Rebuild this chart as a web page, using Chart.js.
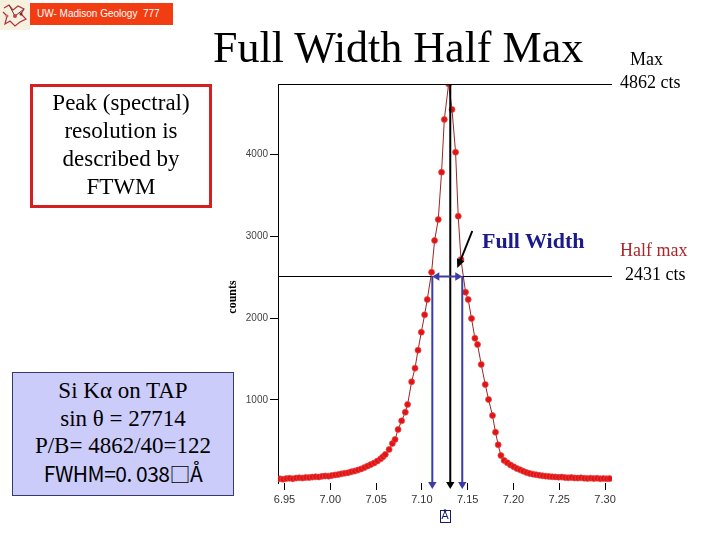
<!DOCTYPE html>
<html>
<head>
<meta charset="utf-8">
<script src="https://cdn.jsdelivr.net/npm/chart.js@4.4.1/dist/chart.umd.min.js"></script>
<style>
  body { margin: 0; background: #fff; }
  #wrap { position: relative; width: 720px; height: 540px; overflow: hidden; }
  #wrap canvas { position: absolute; left: 0; top: 0; }
  .txt { position: absolute; font-family: "Liberation Serif", "DejaVu Serif", serif; color: #000; white-space: nowrap; }
  #banner { position: absolute; left: 30px; top: 3px; width: 143px; height: 22px; background: #f23c12;
    color: #fff; font: 10px "Liberation Sans", Arial, sans-serif; line-height: 22px; padding-left: 7px; box-sizing: border-box; }
  #logo { position: absolute; left: 0; top: 0; }
  #peakBox { position: absolute; left: 30px; top: 84px; width: 182px; height: 124px; border: 3px solid #d42020;
    box-sizing: border-box; text-align: center; font-size: 23px; line-height: 28px; padding-top: 2px; }
  #infoBox { position: absolute; left: 12px; top: 372px; width: 222px; height: 124px; border: 1px solid #3a3a6a;
    background: #ccccfa; box-sizing: border-box; text-align: center; font-size: 23px; line-height: 27.5px; padding-top: 4px; }
  #infoBox .gothic { font-family: "Noto Sans CJK JP", "DejaVu Sans", sans-serif; font-size: 21px; letter-spacing: -0.5px; }
</style>
</head>
<body>
<div id="wrap">
  <canvas id="fwhmChart"></canvas>
  <svg id="logo" width="30" height="30">
    <rect x="0" y="0" width="30" height="30" fill="#f6f1de"/>
    <polyline points="4,8 9,5 13,10 18,6 24,9 21,14 26,19 20,22 15,26 10,21 5,24 7,16 3,12" fill="none" stroke="#b03040" stroke-width="1.2"/>
    <polyline points="9,5 15,16 24,9" fill="none" stroke="#703030" stroke-width="1"/>
    <circle cx="15" cy="16" r="2" fill="#c04050"/>
    <circle cx="21" cy="14" r="1.5" fill="#802020"/>
    <circle cx="7" cy="16" r="1.5" fill="#d06070"/>
  </svg>
  <div id="banner">UW- Madison Geology&nbsp; 777</div>
  <div class="txt" style="left:213px; top:23px; font-size:44px; line-height:50px;">Full Width Half Max</div>
  <div id="peakBox" class="txt">Peak (spectral)<br>resolution is<br>described by<br>FTWM</div>
  <div id="infoBox" class="txt">Si K&alpha; on TAP<br>sin &theta; = 27714<br>P/B= 4862/40=122<br><span class="gothic">FWHM=0. 038□Å</span></div>
  <div class="txt" style="left:630px; top:48px; font-size:18px; line-height:22px;">Max</div>
  <div class="txt" style="left:620px; top:71px; font-size:18px; line-height:22px;">4862 cts</div>
  <div class="txt" style="left:482px; top:228px; font-size:22px; line-height:26px; font-weight:bold; color:#1a1a8c;">Full Width</div>
  <div class="txt" style="left:620px; top:239px; font-size:18px; line-height:22px; color:#a8282a;">Half max</div>
  <div class="txt" style="left:625px; top:263px; font-size:18px; line-height:22px;">2431 cts</div>
</div>

<script>
// DATA - wavelength position (A) and counts
const positions = [
  6.9449, 6.9485, 6.9520, 6.9556, 6.9591, 6.9627, 6.9662, 6.9698, 6.9733, 6.9769,
  6.9804, 6.9840, 6.9875, 6.9911, 6.9946, 6.9982, 7.0017, 7.0053, 7.0088, 7.0124,
  7.0159, 7.0195, 7.0230, 7.0266, 7.0301, 7.0337, 7.0372, 7.0408, 7.0443, 7.0479,
  7.0514, 7.0550, 7.0575,
  7.0601, 7.0642, 7.0678, 7.0707, 7.0740, 7.0779, 7.0819, 7.0844, 7.0888, 7.0925,
  7.0958, 7.0994, 7.1030, 7.1059, 7.1106, 7.1139, 7.1179, 7.1215, 7.1245, 7.1292,
  7.1329, 7.1368, 7.1397, 7.1427, 7.1477, 7.1506, 7.1542, 7.1579, 7.1608, 7.1648,
  7.1692, 7.1728, 7.1771, 7.1804, 7.1833, 7.1863,
  7.1898, 7.1933, 7.1968, 7.2003, 7.2038, 7.2073, 7.2108, 7.2143, 7.2178, 7.2213,
  7.2248, 7.2283, 7.2318, 7.2353, 7.2388, 7.2423, 7.2458, 7.2493, 7.2528, 7.2563,
  7.2598, 7.2633, 7.2668, 7.2703, 7.2738, 7.2773, 7.2808, 7.2843, 7.2878, 7.2913,
  7.2948, 7.2983, 7.3018, 7.3050
]
const counts = [
  35, 30, 38, 42, 36, 44, 48, 45, 52, 50,
  56, 60, 58, 66, 70, 68, 76, 82, 88, 96,
  104, 110, 122, 130, 142, 156, 172, 192, 210, 230,
  252, 280, 305,
  333, 394, 467, 516, 638, 744, 850, 944, 1221, 1388,
  1608, 1828, 2040, 2227, 2561, 2949, 3205, 3784, 4428, 4862,
  4550, 4028, 3246, 2716, 2317, 2227, 1995, 1754, 1677, 1433,
  1188, 1005, 809, 605, 451, 320,
  260, 232, 205, 182, 160, 145, 128, 112, 100, 92,
  84, 78, 72, 68, 64, 60, 58, 55, 56, 50,
  48, 52, 46, 44, 47, 42, 40, 43, 38, 41,
  37, 39, 36, 38
]
const xTicks = [6.95, 7.00, 7.05, 7.10, 7.15, 7.20, 7.25, 7.30]
const yTicks = [1000, 2000, 3000, 4000]

// annotation levels
const maxCounts = 4862
const halfLineLevel = 2520
const peakLine = 7.131
const fwhmLeft = 7.1114
const fwhmRight = 7.1441


function arrowHead(ctx, x, y, dir, size, color) {
    // dir: 'down', 'left', 'right'
    ctx.fillStyle = color
    ctx.beginPath()
    if (dir == 'down') {
        ctx.moveTo(x, y)
        ctx.lineTo(x - size * 0.6, y - size)
        ctx.lineTo(x + size * 0.6, y - size)
    } else if (dir == 'left') {
        ctx.moveTo(x, y)
        ctx.lineTo(x + size, y - size * 0.6)
        ctx.lineTo(x + size, y + size * 0.6)
    } else {
        ctx.moveTo(x, y)
        ctx.lineTo(x - size, y - size * 0.6)
        ctx.lineTo(x - size, y + size * 0.6)
    }
    ctx.closePath()
    ctx.fill()
}

const fwhmMarks = {
    id: 'fwhmMarks',
    afterDatasetsDraw(chart) {
        const ctx = chart.ctx
        const xs = chart.scales.x
        const ys = chart.scales.y
        const area = chart.chartArea
        const bottom = area.bottom + 6

        const yMax = ys.getPixelForValue(maxCounts)
        const yHalf = Math.round(ys.getPixelForValue(halfLineLevel))

        ctx.save()
        // max + half max lines
        ctx.strokeStyle = '#000'
        ctx.lineWidth = 1
        ctx.beginPath()
        ctx.moveTo(area.left, Math.round(yMax) + 0.5)
        ctx.lineTo(area.right, Math.round(yMax) + 0.5)
        ctx.moveTo(area.left, yHalf + 0.5)
        ctx.lineTo(area.right, yHalf + 0.5)
        ctx.stroke()

        // peak position line
        const xp = xs.getPixelForValue(peakLine)
        ctx.lineWidth = 2
        ctx.beginPath()
        ctx.moveTo(xp, yMax)
        ctx.lineTo(xp, bottom - 5)
        ctx.stroke()
        arrowHead(ctx, xp, bottom, 'down', 7, '#000')

        // full width lines
        const blue = '#3c3ca8'
        const xl = xs.getPixelForValue(fwhmLeft)
        const xr = xs.getPixelForValue(fwhmRight)
        ctx.strokeStyle = blue
        ctx.lineWidth = 2
        ctx.beginPath()
        ctx.moveTo(xl, yHalf)
        ctx.lineTo(xl, bottom - 5)
        ctx.moveTo(xr, yHalf)
        ctx.lineTo(xr, bottom - 5)
        ctx.moveTo(xl + 5, yHalf + 0.5)
        ctx.lineTo(xr - 5, yHalf + 0.5)
        ctx.stroke()
        arrowHead(ctx, xl, bottom, 'down', 7, blue)
        arrowHead(ctx, xr, bottom, 'down', 7, blue)
        arrowHead(ctx, xl, yHalf + 0.5, 'left', 7, blue)
        arrowHead(ctx, xr, yHalf + 0.5, 'right', 7, blue)

        // pointer from the "Full Width" label
        const tipX = xr - 5
        const tipY = yHalf - 8
        ctx.strokeStyle = '#000'
        ctx.lineWidth = 2
        ctx.beginPath()
        ctx.moveTo(tipX + 15, tipY - 37)
        ctx.lineTo(tipX + 3, tipY - 7)
        ctx.stroke()
        ctx.translate(tipX, tipY)
        ctx.rotate(Math.atan2(37, -15) - Math.PI / 2)
        ctx.fillStyle = '#000'
        ctx.beginPath()
        ctx.moveTo(0, 0)
        ctx.lineTo(-4, -9)
        ctx.lineTo(4, -9)
        ctx.closePath()
        ctx.fill()
        ctx.restore()

        // y axis title
        ctx.save()
        ctx.translate(233, 297)
        ctx.rotate(-Math.PI / 2)
        ctx.font = 'bold 12px "Liberation Serif", serif'
        ctx.fillStyle = '#000'
        ctx.textAlign = 'center'
        ctx.textBaseline = 'middle'
        ctx.fillText('counts', 0, 0)
        ctx.restore()

        // x axis unit
        ctx.save()
        ctx.font = '11px "DejaVu Sans", sans-serif'
        ctx.fillStyle = '#1a1a6a'
        ctx.textAlign = 'center'
        ctx.textBaseline = 'middle'
        ctx.fillText('Å', 445, 516)
        ctx.strokeStyle = '#1a1a6a'
        ctx.lineWidth = 1
        ctx.strokeRect(440.5, 510.5, 10, 12)
        ctx.restore()
    }
}

const points = positions.map((p, i) => ({ x: p, y: counts[i] }))

let fwhmChart = new Chart(document.getElementById('fwhmChart'), {
    type: 'line',
    data: {
        datasets: [{
            label: 'Si Ka on TAP',
            data: points,
            borderColor: '#9a2424',
            borderWidth: 1,
            pointRadius: 3,
            pointBackgroundColor: '#e01414',
            pointBorderColor: 'rgba(235, 70, 70, 0.7)',
            pointBorderWidth: 1,
            tension: 0
        }]
    },
    options: {
        responsive: true,
        maintainAspectRatio: false,
        animation: false,
        layout: { padding: { left: 0, right: 108, top: 84, bottom: 0 } },
        plugins: { legend: { display: false }, tooltip: { enabled: false } },
        scales: {
            x: {
                type: 'linear',
                min: 6.9429,
                max: 7.3076,
                afterBuildTicks(scale) { scale.ticks = xTicks.map(v => ({ value: v })) },
                afterFit(scale) { scale.height = 57 },
                grid: { drawOnChartArea: false, drawTicks: true, tickLength: 7, color: '#000' },
                border: { display: false },
                ticks: {
                    padding: 3,
                    color: '#333',
                    font: { family: '"Liberation Sans", Arial, sans-serif', size: 11 },
                    callback: v => v.toFixed(2)
                }
            },
            y: {
                min: -16,
                max: maxCounts,
                afterBuildTicks(scale) { scale.ticks = yTicks.map(v => ({ value: v })) },
                afterFit(scale) { scale.width = 278 },
                grid: { drawOnChartArea: false, drawTicks: true, tickLength: 8, color: '#000' },
                border: { display: true, color: '#000', width: 1 },
                ticks: {
                    padding: 2,
                    color: '#444',
                    font: { family: '"Liberation Sans", Arial, sans-serif', size: 10 },
                    callback: v => String(v)
                }
            }
        }
    },
    plugins: [fwhmMarks]
});
</script>
</body>
</html>
